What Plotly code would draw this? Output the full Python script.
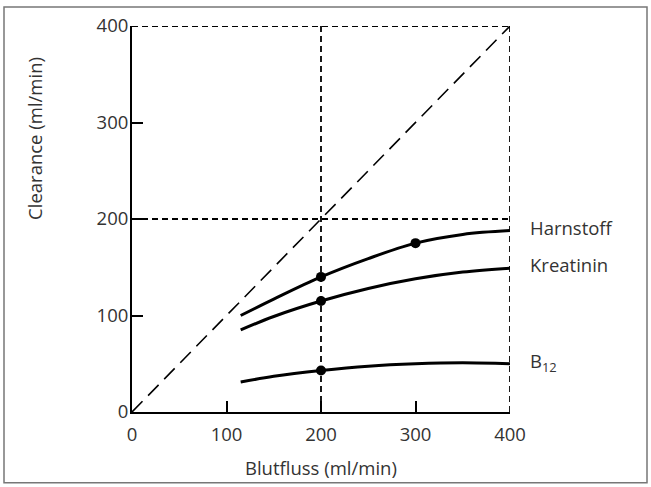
import plotly.graph_objects as go

# Data
flow = [115, 150, 200, 250, 300, 350, 400]
harnstoff = [100, 117, 140, 159, 175, 184, 188]
kreatinin = [85, 99, 115, 128, 138, 145, 149]
b12 = [31, 37, 43, 47.5, 50, 51, 50]

harn_pts_x = [200, 300]
harn_pts_y = [140, 175]
krea_pts_x = [200]
krea_pts_y = [115]
b12_pts_x = [200]
b12_pts_y = [43]

ticks = [0, 100, 200, 300, 400]
series_labels = ["Harnstoff", "Kreatinin", "B<sub>12</sub>"]
label_y = [191, 153, 52]

FONT = "Open Sans"
TXT = "#333333"
FS = 18.5

fig = go.Figure()

def dashed(x, y, dash, w=1.8):
    fig.add_trace(go.Scatter(x=x, y=y, mode="lines", cliponaxis=False,
                             line=dict(color="black", width=w, dash=dash),
                             hoverinfo="skip", showlegend=False))

# reference dashed lines
dashed([0, 400], [400, 400], "6px,4px")
dashed([400, 400], [0, 400], "6px,4px")
dashed([0, 400], [200, 200], "6px,4px")
dashed([200, 200], [0, 400], "6px,4px")
dashed([0, 400], [0, 400], "15px,8px", 1.6)

for ys in (harnstoff, kreatinin, b12):
    fig.add_trace(go.Scatter(x=flow, y=ys, mode="lines", cliponaxis=False,
                             line=dict(color="black", width=3, shape="spline"),
                             showlegend=False))

fig.add_trace(go.Scatter(x=harn_pts_x + krea_pts_x + b12_pts_x,
                         y=harn_pts_y + krea_pts_y + b12_pts_y,
                         mode="markers", cliponaxis=False,
                         marker=dict(color="black", size=10),
                         showlegend=False))

for lab, yv in zip(series_labels, label_y):
    fig.add_annotation(x=400, y=yv, xref="x", yref="y", text=lab, showarrow=False,
                       xanchor="left", yanchor="middle", xshift=18,
                       font=dict(family=FONT, size=FS, color=TXT))

fig.add_annotation(x=-0.2566, y=283, xref="paper", yref="y", text="Clearance (ml/min)",
                   textangle=-90, showarrow=False, xanchor="center", yanchor="middle",
                   font=dict(family=FONT, size=FS, color=TXT))
fig.add_annotation(x=0.5, y=0, xref="paper", yref="paper", text="Blutfluss (ml/min)",
                   showarrow=False, xanchor="center", yanchor="middle", yshift=-55,
                   font=dict(family=FONT, size=FS, color=TXT))

axis_common = dict(range=[0, 400], tickvals=ticks, ticktext=[str(t) for t in ticks],
                   showgrid=False, zeroline=False, showline=True, linecolor="black",
                   linewidth=2, ticks="inside", ticklen=11, tickwidth=2, tickcolor="black",
                   tickfont=dict(family=FONT, size=FS, color=TXT))

fig.update_xaxes(**axis_common, ticklabelstandoff=5)
fig.update_yaxes(**axis_common, ticklabelstandoff=-2)

fig.add_shape(type="rect", xref="paper", yref="paper",
              x0=(4 - 132) / 378, x1=(647 - 132) / 378,
              y0=(412 - 483) / 388, y1=(412 - 5) / 388,
              line=dict(color="#777777", width=1.5), layer="below")

fig.update_layout(width=651, height=487, margin=dict(l=132, r=141, t=24, b=75),
                  plot_bgcolor="white", paper_bgcolor="white", showlegend=False)

fig.write_html("out.html", config={"displayModeBar": False},
               post_script="document.body.style.margin='0px';")
